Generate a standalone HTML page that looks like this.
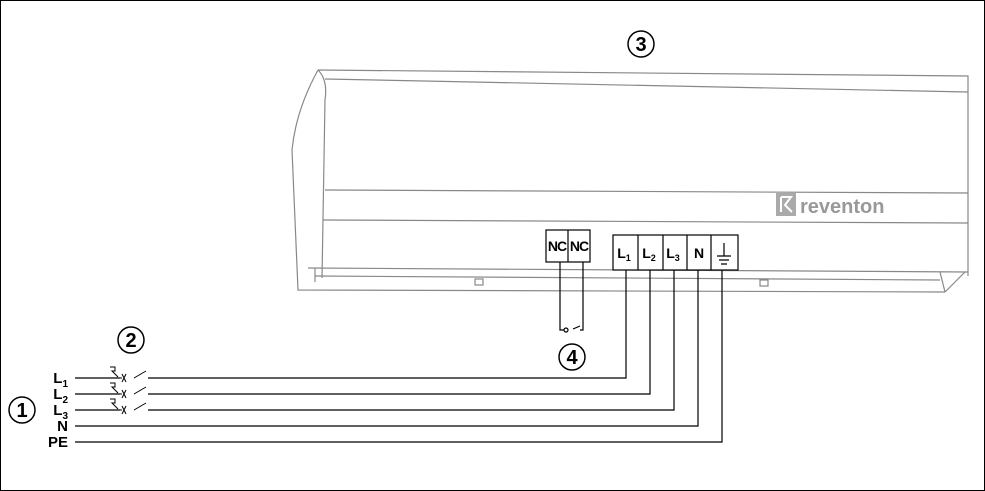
<!DOCTYPE html>
<html><head><style>body{margin:0;background:#fff}svg{display:block}</style></head><body>
<svg width="985" height="491" viewBox="0 0 985 491" font-family="Liberation Sans, sans-serif">
<rect x="0.5" y="0.5" width="984" height="490" fill="#fff" stroke="#000"/>
<g fill="none" stroke="#888" stroke-width="1.2">
<path d="M318 70 L968 76 L968 276"/>
<path d="M318 70 Q296 110 292 150 L298 290 L945 292"/>
<path d="M318 70 Q328 80 325 100 L322 278"/>
<path d="M325 79 L968 92"/>
<path d="M325 190 L968 193"/>
<path d="M323 220 L968 223"/>
<path d="M308 268 L968 272"/>
<path d="M315 276 L940 280"/>
<path d="M315 268 L315 282 M940 272 L945 292 M965 272 L945 292"/>
<rect x="475" y="279" width="8" height="6"/><rect x="760" y="280" width="8" height="6"/>
</g>
<rect x="776" y="193" width="20" height="23" fill="#aaa"/>
<path d="M781 197 L781 212 M781 197 L791 197 L785 205 L792 212" stroke="#fff" stroke-width="2" fill="none"/>
<text x="800" y="213" font-size="20" font-weight="bold" fill="#999">reventon</text>
<g stroke="#000" stroke-width="1.2" fill="#fff">
<rect x="546" y="230" width="44" height="32"/><line x1="568" y1="230" x2="568" y2="262"/>
<rect x="613" y="235" width="125" height="35"/>
<line x1="638" y1="235" x2="638" y2="270"/><line x1="663" y1="235" x2="663" y2="270"/><line x1="687" y1="235" x2="687" y2="270"/><line x1="711" y1="235" x2="711" y2="270"/>
</g>
<g font-weight="bold" font-size="14" text-anchor="middle">
<text x="557" y="251" letter-spacing="-1">NC</text><text x="579" y="251" letter-spacing="-1">NC</text>
<text x="624" y="258">L<tspan font-size="9" dy="3">1</tspan></text>
<text x="649" y="258">L<tspan font-size="9" dy="3">2</tspan></text>
<text x="673" y="258">L<tspan font-size="9" dy="3">3</tspan></text>
<text x="699" y="258">N</text>
</g>
<g stroke="#000" stroke-width="1.2" fill="none">
<path d="M724 243 V256 M717 256 H731 M719 260 H729 M721 264 H727"/>
<path d="M560 262 V330 H564 M573 329 L580 326 M583 262 V330 H580"/><circle cx="566" cy="330" r="2"/>
<path d="M626 270 V378 H75"/>
<path d="M650 270 V394 H75"/>
<path d="M674 270 V410 H75"/>
<path d="M698 270 V426 H75"/>
<path d="M722 270 V442 H75"/>
</g>
<g stroke="#fff" stroke-width="5"><line x1="120" y1="378" x2="148" y2="378"/><line x1="120" y1="394" x2="148" y2="394"/><line x1="120" y1="410" x2="148" y2="410"/></g>
<g stroke="#000" stroke-width="1" fill="none">
<path d="M115 378 H122 M122 374 l4 8 M126 374 l-4 8 M134 378 L146 371 M148 378 H150"/>
<path d="M115 394 H122 M122 390 l4 8 M126 390 l-4 8 M134 394 L146 387 M148 394 H150"/>
<path d="M115 410 H122 M122 406 l4 8 M126 406 l-4 8 M134 410 L146 403 M148 410 H150"/>
<path d="M110 367 h5 v4 h-3 l6 6 M110 383 h5 v4 h-3 l6 6 M110 399 h5 v4 h-3 l6 6"/>
</g>
<g font-weight="bold" font-size="15" text-anchor="end">
<text x="68" y="383">L<tspan font-size="10" dy="4">1</tspan></text>
<text x="68" y="399">L<tspan font-size="10" dy="4">2</tspan></text>
<text x="68" y="415">L<tspan font-size="10" dy="4">3</tspan></text>
<text x="68" y="431">N</text><text x="68" y="447">PE</text>
</g>
<g stroke="#000" stroke-width="1.5" fill="none">
<circle cx="22" cy="410" r="13"/><circle cx="131" cy="340" r="13"/><circle cx="641" cy="44" r="13"/><circle cx="572" cy="357" r="13"/>
</g>
<g font-size="20" font-weight="bold" text-anchor="middle">
<text x="22" y="417">1</text><text x="131" y="347">2</text><text x="641" y="51">3</text><text x="572" y="364">4</text>
</g>
</svg>
</body></html>
